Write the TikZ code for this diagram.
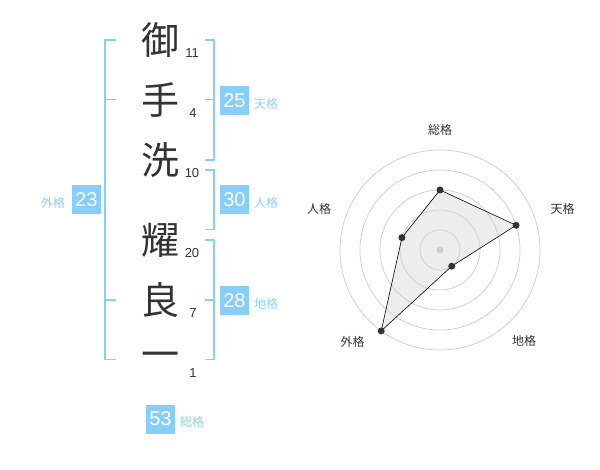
\documentclass[tikz,border=0pt]{standalone}
\usepackage{fontspec}
\setmainfont{Liberation Sans}
\newfontfamily\cjk{Noto Sans CJK JP}
\usetikzlibrary{calc}
\definecolor{kblue}{HTML}{87CEFA}
\definecolor{klab}{HTML}{8DD1F7}
\definecolor{kdark}{HTML}{333333}
\definecolor{kring}{HTML}{CCCCCC}
\begin{document}
\begin{tikzpicture}[x=1pt,y=-1pt,
  kanji/.style={font=\cjk\fontsize{38}{38}\selectfont, text=kdark, inner sep=0pt},
  strokes/.style={font=\fontsize{13}{13}\selectfont, text=kdark, inner sep=0pt},
  kbox/.style={fill=kblue, text=white, font=\fontsize{20}{20}\selectfont, minimum width=29pt, minimum height=29pt, inner sep=0pt},
  klabel/.style={font=\cjk\fontsize{12}{12}\selectfont, text=klab, inner sep=0pt},
  bracket/.style={draw=kblue, line width=1.5pt},
  ring/.style={draw=kring, line width=0.7pt},
  rlabel/.style={font=\cjk\fontsize{12}{12}\selectfont, text=kdark, inner sep=0pt},
  rdot/.style={circle, fill=kdark, inner sep=0pt, minimum size=7pt}]
\useasboundingbox (0,0) rectangle (600,470);
% characters
\node[kanji] (c1) at (160,40) {御};
\node[kanji] (c2) at (160,100) {手};
\node[kanji] (c3) at (160,160) {洗};
\node[kanji] (c4) at (160,240) {耀};
\node[kanji] (c5) at (160,300) {良};
\node[kanji] (c6) at (160,360) {一};
% stroke counts
\node[strokes] (n1) at (192,53) {11};
\node[strokes] (n2) at (193,113) {4};
\node[strokes] (n3) at (192,173) {10};
\node[strokes] (n4) at (192,253) {20};
\node[strokes] (n5) at (193,313) {7};
\node[strokes] (n6) at (193,373) {1};
% brackets
\draw[bracket] (116,40) -- (105,40) -- (105,359.5) -- (116,359.5);
\draw[bracket] (105,99.5) -- (116,99.5);
\draw[bracket] (105,300) -- (116,300);
\draw[bracket] (205,40) -- (214,40) -- (214,160) -- (205,160);
\draw[bracket] (205,99.5) -- (214,99.5);
\draw[bracket] (205,170) -- (214,170) -- (214,229.5) -- (205,229.5);
\draw[bracket] (205,240) -- (214,240) -- (214,359.5) -- (205,359.5);
\draw[bracket] (205,300) -- (214,300);
% boxes and labels
\node[kbox] (b1) at (234.5,100.5) {25};
\node[klabel] (l1) at (266,104) {天格};
\node[kbox] (b2) at (234.5,200) {30};
\node[klabel] (l2) at (266,203) {人格};
\node[kbox] (b3) at (234.5,300.3) {28};
\node[klabel] (l3) at (266,304) {地格};
\node[kbox] (b4) at (86.5,200) {23};
\node[klabel] (l4) at (53,203) {外格};
\node[kbox] (b5) at (160.5,419) {53};
\node[klabel] (l5) at (192,422) {総格};
% radar chart
\coordinate (rc) at (440,250);
\coordinate (p1) at ($(rc)+({60*cos(90)},{-60*sin(90)})$);
\coordinate (p2) at ($(rc)+({80*cos(18)},{-80*sin(18)})$);
\coordinate (p3) at ($(rc)+({20*cos(306)},{-20*sin(306)})$);
\coordinate (p4) at ($(rc)+({100*cos(234)},{-100*sin(234)})$);
\coordinate (p5) at ($(rc)+({40*cos(162)},{-40*sin(162)})$);
\fill[gray!14] (p1) -- (p2) -- (p3) -- (p4) -- (p5) -- cycle;
\foreach \r in {20,40,60,80,100} \draw[ring] (rc) circle[radius=\r pt];
\node[circle, fill=kring, inner sep=0pt, minimum size=7pt] (ctr) at (rc) {};
\draw[black, line width=0.6pt] (p1) -- (p2) -- (p3) -- (p4) -- (p5) -- cycle;
\node[rdot] (d1) at (p1) {};
\node[rdot] (d2) at (p2) {};
\node[rdot] (d3) at (p3) {};
\node[rdot] (d4) at (p4) {};
\node[rdot] (d5) at (p5) {};
\node[rlabel] (r1) at (440,130) {総格};
\node[rlabel] (r2) at (562.5,208.5) {天格};
\node[rlabel] (r3) at (319,209) {人格};
\node[rlabel] (r4) at (352.5,342) {外格};
\node[rlabel] (r5) at (524,341) {地格};
\end{tikzpicture}
\end{document}
